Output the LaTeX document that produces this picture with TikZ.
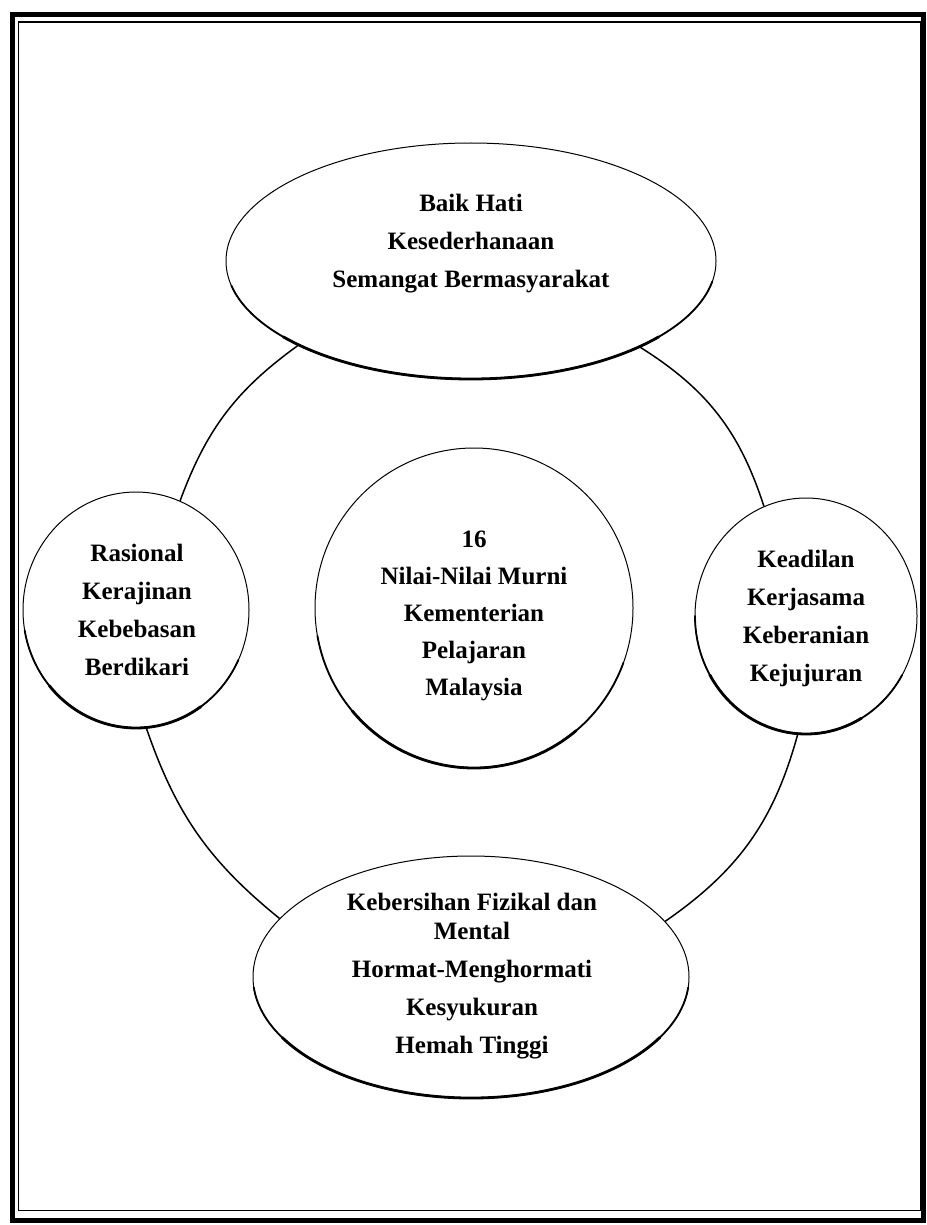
\documentclass[tikz,border=0pt]{standalone}
\usepackage{fontspec}
\setmainfont{Liberation Serif}
\usetikzlibrary{shapes.geometric}
\begin{document}
\begin{tikzpicture}[x=1pt,y=1pt,
  blob/.style={draw, ellipse, line width=1pt, inner sep=0pt, fill=white},
  medium/.style={line width=1.8pt, line cap=round},
  heavy/.style={line width=2.8pt, line cap=round},
  txt/.style={align=center, font=\fontsize{25}{38}\selectfont\bfseries},
  ring/.style={line width=1.5pt},
  outerframe/.style={line width=5pt},
  innerframe/.style={line width=1.5pt}]
\useasboundingbox (0,0) rectangle (926,-1225);
% frame
\draw[outerframe] (12.5,-15) rectangle (923.5,-1220.5);
\draw[innerframe] (18.5,-22) rectangle (920.5,-1210.5);
% shapes
\node[blob, minimum width=490pt, minimum height=236pt] (top) at (471,-261) {};
\node[blob, minimum width=226pt, minimum height=236pt] (left) at (136,-610) {};
\node[blob, minimum width=222pt, minimum height=236pt] (right) at (806,-616) {};
\node[blob, minimum width=318pt, minimum height=320pt] (mid) at (474,-608) {};
\node[blob, minimum width=436pt, minimum height=242pt] (bot) at (471,-977) {};
% heavier lower outlines (scanned look), tapered
\draw[medium] (top.center) ++(192:245 and 118) arc[start angle=192, end angle=350, x radius=245, y radius=118];
\draw[heavy] (top.center) ++(220:245 and 118) arc[start angle=220, end angle=320, x radius=245, y radius=118];
\draw[medium] (left.center) ++(190:113 and 118) arc[start angle=190, end angle=335, x radius=113, y radius=118];
\draw[heavy] (left.center) ++(220:113 and 118) arc[start angle=220, end angle=305, x radius=113, y radius=118];
\draw[medium] (right.center) ++(180:111 and 118) arc[start angle=180, end angle=330, x radius=111, y radius=118];
\draw[heavy] (right.center) ++(210:111 and 118) arc[start angle=210, end angle=300, x radius=111, y radius=118];
\draw[medium] (mid.center) ++(190:159 and 160) arc[start angle=190, end angle=340, x radius=159, y radius=160];
\draw[heavy] (mid.center) ++(220:159 and 160) arc[start angle=220, end angle=310, x radius=159, y radius=160];
\draw[medium] (bot.center) ++(185:218 and 121) arc[start angle=185, end angle=355, x radius=218, y radius=121];
\draw[heavy] (bot.center) ++(210:218 and 121) arc[start angle=210, end angle=330, x radius=218, y radius=121];
% texts
\node[txt] (toptxt) at (471,-243.5) {Baik Hati\\Kesederhanaan\\Semangat Bermasyarakat};
\node[txt] (lefttxt) at (137,-610) {Rasional\\Kerajinan\\Kebebasan\\Berdikari};
\node[txt] (righttxt) at (806,-618) {Keadilan\\Kerjasama\\Keberanian\\Kejujuran};
\node[txt, font=\fontsize{25}{37}\selectfont\bfseries] (midtxt) at (474,-615.5) {16\\Nilai-Nilai Murni\\Kementerian\\Pelajaran\\Malaysia};
\node[txt] (bottxt) at (472,-976) {Kebersihan Fizikal dan\\[-9pt]Mental\\Hormat-Menghormati\\Kesyukuran\\Hemah Tinggi};
% ring arcs
\draw[ring] (top.206) to[bend right=17] (left.68);
\draw[ring] (left.-85) to[bend right=16] (bot.163);
\draw[ring] (bot.16) to[bend right=20] (right.-94);
\draw[ring] (right.111) to[bend right=20] (top.-27);
\end{tikzpicture}
\end{document}
